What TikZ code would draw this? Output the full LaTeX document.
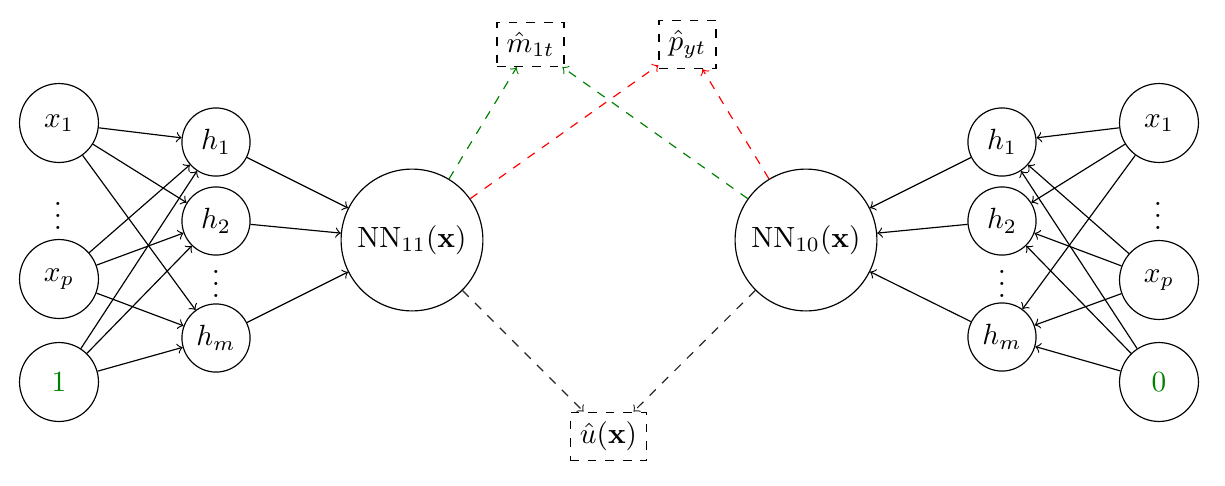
\documentclass[tikz,border=0pt]{standalone}
\usepackage{amsmath}
\usepackage{bm}
\begin{document}
\begin{tikzpicture}[x=0.342pt,y=-0.342pt,
  inp/.style={circle,draw,minimum size=27pt,inner sep=0pt},
  hid/.style={circle,draw,minimum size=23.3pt,inner sep=0pt},
  big/.style={circle,draw,minimum size=48.5pt,inner sep=0pt},
  outbox/.style={draw,dashed,rectangle},
  conn/.style={->},
  gdash/.style={->,dashed,draw=green!50!black},
  rdash/.style={->,dashed,draw=red},
  kdash/.style={->,dashed,draw=black!85}]
\useasboundingbox (0,0) rectangle (1225,485);
% left network
\node[inp] (lx1) at (59,123) {$x_1$};
\node (lvd) at (58,207) {$\vdots$};
\node[inp] (lxp) at (59,279) {$x_p$};
\node[inp] (lone) at (59,382) {\color{green!50!black}$1$};
\node[hid] (lh1) at (216,142) {$h_1$};
\node[hid] (lh2) at (216,221) {$h_2$};
\node (lhvd) at (216,275) {$\vdots$};
\node[hid] (lhm) at (216,338) {$h_m$};
\node[big] (nn11) at (412,240) {};
\node (nn11t) at (nn11) {$\mathrm{NN}_{11}(\mathbf{x})$};
% right network
\node[inp] (rx1) at (1159,123) {$x_1$};
\node (rvd) at (1158,207) {$\vdots$};
\node[inp] (rxp) at (1159,280) {$x_p$};
\node[inp] (rzero) at (1159,382) {\color{green!50!black}$0$};
\node[hid] (rh1) at (1002,142) {$h_1$};
\node[hid] (rh2) at (1002,221) {$h_2$};
\node (rhvd) at (1002,275) {$\vdots$};
\node[hid] (rhm) at (1002,337) {$h_m$};
\node[big] (nn10) at (806,240) {};
\node (nn10t) at (nn10) {$\mathrm{NN}_{10}(\mathbf{x})$};
% outputs
\node[outbox] (m1t) at (530.5,44.5) {$\hat{m}_{1t}$};
\node[outbox] (pyt) at (687.5,44.5) {$\hat{p}_{yt}$};
\node[outbox] (ux) at (608.5,436.5) {$\hat{u}(\mathbf{x})$};
% left connections
\foreach \s in {lx1,lxp,lone}
  \foreach \t in {lh1,lh2,lhm}
    \draw[conn] (\s) -- (\t);
\foreach \t in {lh1,lh2,lhm}
  \draw[conn] (\t) -- (nn11);
% right connections
\foreach \s in {rx1,rxp,rzero}
  \foreach \t in {rh1,rh2,rhm}
    \draw[conn] (\s) -- (\t);
\foreach \t in {rh1,rh2,rhm}
  \draw[conn] (\t) -- (nn10);
% output connections
\draw[gdash] (nn11) -- (m1t);
\draw[rdash] (nn11) -- (pyt);
\draw[gdash] (nn10) -- (m1t);
\draw[rdash] (nn10) -- (pyt);
\draw[kdash] (nn11) -- (ux);
\draw[kdash] (nn10) -- (ux);
\end{tikzpicture}
\end{document}
